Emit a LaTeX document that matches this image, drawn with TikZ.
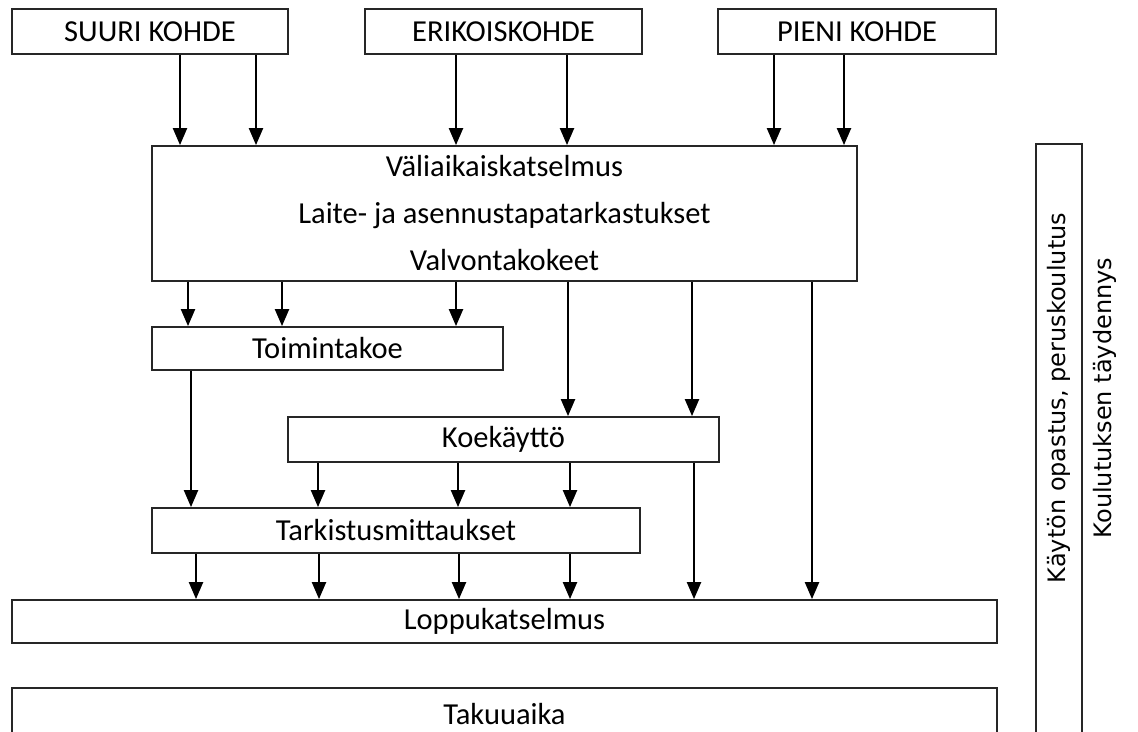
\documentclass[tikz,border=0pt]{standalone}
\usepackage{fontspec}
\setmainfont{Carlito}
\newfontfamily\vfont{DejaVu Sans}
\usetikzlibrary{arrows.meta}
\begin{document}
\begin{tikzpicture}[x=1pt,y=-1pt,
  box/.style={draw=black!85, line width=1.8pt, rectangle, inner sep=0pt, align=center,
    font=\fontsize{30.5}{47}\selectfont},
  arr/.style={line width=2.2pt, -{Triangle[length=17pt,width=14pt]}},
  vtext/.style={rotate=90, inner sep=0pt, font=\vfont\fontsize{24}{28}\selectfont}]
\clip (0,0) rectangle (1138,731);
\fill[white] (0,0) rectangle (1138,731);
% top boxes
\node[box, minimum width=276pt, minimum height=45pt] (suuri) at (150,31.5) {SUURI KOHDE};
\node[box, minimum width=277pt, minimum height=45pt] (erik) at (503.5,31.5) {ERIKOISKOHDE};
\node[box, minimum width=278pt, minimum height=45pt] (pieni) at (857,31.5) {PIENI KOHDE};
% main boxes
\node[box, minimum width=705pt, minimum height=135pt] (big) at (504.5,213.5)
  {Väliaikaiskatselmus\\Laite- ja asennustapatarkastukset\\Valvontakokeet};
\node[box, minimum width=351pt, minimum height=43pt] (toim) at (327.5,348.5) {Toimintakoe};
\node[box, minimum width=431pt, minimum height=45pt] (koe) at (503.5,439.5) {Koekäyttö};
\node[box, minimum width=488pt, minimum height=45pt] (tark) at (396,530.5) {Tarkistusmittaukset};
\node[box, minimum width=985pt, minimum height=43pt] (loppu) at (504.5,621.5) {Loppukatselmus};
\node[box, minimum width=985pt, minimum height=52pt] (taku) at (504.5,714) {Takuuaika};
% side
\node[box, minimum width=46pt, minimum height=616pt] (side) at (1059,452) {};
\node[vtext] (kayt) at (1059,398) {Käytön opastus, peruskoulutus};
\node[vtext] (koul) at (1105,398) {Koulutuksen täydennys};
% arrows
\draw[arr] (suuri.south -| 180,0) -- (big.north -| 180,0);
\draw[arr] (suuri.south -| 256,0) -- (big.north -| 256,0);
\draw[arr] (erik.south -| 456,0) -- (big.north -| 456,0);
\draw[arr] (erik.south -| 567,0) -- (big.north -| 567,0);
\draw[arr] (pieni.south -| 774,0) -- (big.north -| 774,0);
\draw[arr] (pieni.south -| 844,0) -- (big.north -| 844,0);
\draw[arr] (big.south -| 188,0) -- (toim.north -| 188,0);
\draw[arr] (big.south -| 282,0) -- (toim.north -| 282,0);
\draw[arr] (big.south -| 456,0) -- (toim.north -| 456,0);
\draw[arr] (big.south -| 568,0) -- (koe.north -| 568,0);
\draw[arr] (big.south -| 692,0) -- (koe.north -| 692,0);
\draw[arr] (big.south -| 812,0) -- (loppu.north -| 812,0);
\draw[arr] (toim.south -| 191,0) -- (tark.north -| 191,0);
\draw[arr] (koe.south -| 318,0) -- (tark.north -| 318,0);
\draw[arr] (koe.south -| 458,0) -- (tark.north -| 458,0);
\draw[arr] (koe.south -| 570,0) -- (tark.north -| 570,0);
\draw[arr] (koe.south -| 694,0) -- (loppu.north -| 694,0);
\draw[arr] (tark.south -| 196,0) -- (loppu.north -| 196,0);
\draw[arr] (tark.south -| 319,0) -- (loppu.north -| 319,0);
\draw[arr] (tark.south -| 459,0) -- (loppu.north -| 459,0);
\draw[arr] (tark.south -| 570,0) -- (loppu.north -| 570,0);
\end{tikzpicture}
\end{document}
